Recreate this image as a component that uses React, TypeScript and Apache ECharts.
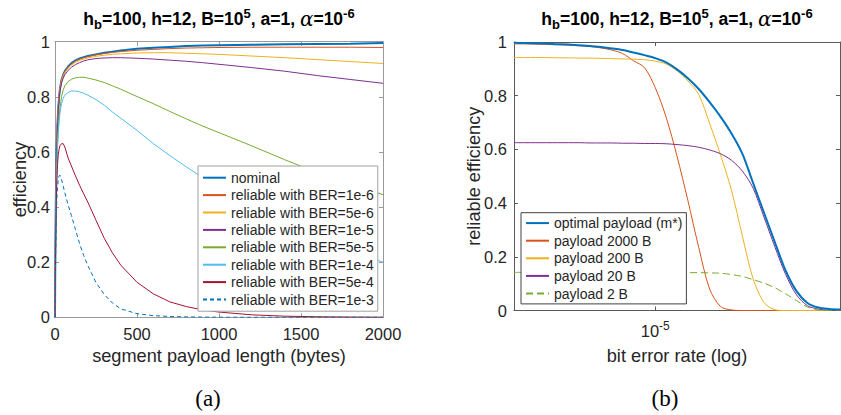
import React, { useEffect, useRef } from 'react';
import * as echarts from 'echarts';

// ---------- (a) efficiency vs segment payload length ----------
const payloadBytes = [0, 1, 2, 3, 5, 7, 10, 15, 20, 25, 30, 40, 50, 60, 80, 100, 125, 150, 175, 200, 250, 300, 350, 400, 500, 600, 700, 800, 900, 1000, 1200, 1400, 1600, 1800, 2000];
const nominal = [0, 0.12, 0.22, 0.3, 0.42, 0.52, 0.61, 0.7, 0.76, 0.8, 0.83, 0.862, 0.88, 0.893, 0.91, 0.922, 0.932, 0.939, 0.944, 0.948, 0.954, 0.96, 0.964, 0.968, 0.974, 0.978, 0.981, 0.984, 0.986, 0.987, 0.989, 0.991, 0.992, 0.993, 0.995];
const ber1e6 = [0, 0.12, 0.22, 0.3, 0.42, 0.52, 0.61, 0.7, 0.76, 0.8, 0.829, 0.861, 0.879, 0.892, 0.908, 0.92, 0.93, 0.937, 0.942, 0.946, 0.952, 0.957, 0.961, 0.964, 0.969, 0.972, 0.975, 0.977, 0.978, 0.979, 0.98, 0.98, 0.98, 0.98, 0.979];
const ber5e6 = [0, 0.12, 0.22, 0.3, 0.42, 0.52, 0.61, 0.7, 0.758, 0.798, 0.827, 0.858, 0.876, 0.888, 0.904, 0.915, 0.925, 0.932, 0.937, 0.941, 0.947, 0.951, 0.954, 0.956, 0.959, 0.96, 0.96, 0.958, 0.956, 0.954, 0.948, 0.942, 0.935, 0.928, 0.921];
const ber1e5 = [0, 0.12, 0.22, 0.3, 0.42, 0.52, 0.6, 0.69, 0.75, 0.79, 0.82, 0.85, 0.868, 0.88, 0.896, 0.907, 0.917, 0.924, 0.93, 0.934, 0.939, 0.941, 0.942, 0.942, 0.94, 0.937, 0.933, 0.929, 0.924, 0.918, 0.906, 0.893, 0.877, 0.863, 0.849];
const ber5e5 = [0, 0.1, 0.18, 0.25, 0.355, 0.44, 0.53, 0.62, 0.68, 0.725, 0.758, 0.8, 0.825, 0.84, 0.855, 0.864, 0.869, 0.871, 0.871, 0.868, 0.861, 0.852, 0.84, 0.828, 0.801, 0.775, 0.747, 0.72, 0.694, 0.67, 0.622, 0.572, 0.525, 0.484, 0.445];
const ber1e4 = [0, 0.1, 0.18, 0.25, 0.36, 0.44, 0.52, 0.61, 0.67, 0.71, 0.74, 0.775, 0.795, 0.806, 0.816, 0.821, 0.821, 0.818, 0.813, 0.806, 0.79, 0.77, 0.745, 0.723, 0.678, 0.63, 0.587, 0.546, 0.507, 0.47, 0.4, 0.338, 0.285, 0.24, 0.2];
const ber5e4 = [0, 0.08, 0.15, 0.21, 0.31, 0.39, 0.47, 0.55, 0.59, 0.61, 0.622, 0.63, 0.63, 0.618, 0.578, 0.549, 0.513, 0.479, 0.448, 0.418, 0.352, 0.287, 0.234, 0.19, 0.127, 0.085, 0.056, 0.039, 0.027, 0.019, 0.009, 0.004, 0.002, 0.001, 0.0005];
const ber1e3 = [0, 0.07, 0.13, 0.18, 0.27, 0.34, 0.41, 0.47, 0.5, 0.513, 0.516, 0.5, 0.476, 0.452, 0.408, 0.369, 0.318, 0.267, 0.224, 0.188, 0.126, 0.083, 0.052, 0.031, 0.013, 0.006, 0.003, 0.0015, 0.0008, 0.0004, 0.0001, 0, 0, 0, 0];

const leftNames = ['nominal', 'reliable with BER=1e-6', 'reliable with BER=5e-6', 'reliable with BER=1e-5', 'reliable with BER=5e-5', 'reliable with BER=1e-4', 'reliable with BER=5e-4', 'reliable with BER=1e-3'];
const leftTicksX = [0, 2000, 500];

// ---------- (b) reliable efficiency vs bit error rate (log10) ----------
const berLog10 = [-5.52, -5.48, -5.44, -5.4, -5.36, -5.32, -5.28, -5.24, -5.2, -5.16, -5.12, -5.08, -5.04, -5.0, -4.96, -4.92, -4.88, -4.84, -4.8, -4.76, -4.72, -4.68, -4.64, -4.6, -4.56, -4.52, -4.48, -4.44, -4.4, -4.36, -4.32];
const optimalPayload = [0.997, 0.996, 0.995, 0.994, 0.992, 0.991, 0.988, 0.985, 0.981, 0.976, 0.97, 0.961, 0.951, 0.94, 0.924, 0.898, 0.865, 0.825, 0.776, 0.722, 0.66, 0.585, 0.475, 0.365, 0.255, 0.148, 0.072, 0.028, 0.011, 0.006, 0.004];
const payload2000 = [0.993, 0.993, 0.992, 0.991, 0.99, 0.988, 0.986, 0.983, 0.978, 0.97, 0.957, 0.93, 0.905, 0.83, 0.72, 0.575, 0.41, 0.235, 0.08, 0.015, 0.002, 0, 0, 0, 0, 0, 0, 0, 0, 0, 0];
const payload200 = [0.942, 0.942, 0.942, 0.942, 0.941, 0.941, 0.94, 0.94, 0.939, 0.938, 0.937, 0.936, 0.934, 0.929, 0.918, 0.893, 0.855, 0.805, 0.697, 0.58, 0.45, 0.28, 0.118, 0.03, 0.003, 0, 0, 0, 0, 0, 0];
const payload20 = [0.625, 0.625, 0.625, 0.625, 0.625, 0.625, 0.625, 0.624, 0.624, 0.624, 0.623, 0.623, 0.622, 0.622, 0.621, 0.618, 0.614, 0.608, 0.598, 0.584, 0.56, 0.52, 0.456, 0.348, 0.238, 0.134, 0.058, 0.018, 0.005, 0.001, 0];
const payload2 = [0.142, 0.142, 0.142, 0.142, 0.142, 0.142, 0.142, 0.142, 0.142, 0.142, 0.142, 0.142, 0.142, 0.142, 0.142, 0.142, 0.141, 0.141, 0.14, 0.139, 0.134, 0.127, 0.115, 0.102, 0.085, 0.062, 0.037, 0.013, 0.002, 0, 0];

const rightNames = ['optimal payload (m*)', 'payload 2000 B', 'payload 200 B', 'payload 20 B', 'payload 2 B'];
const rightTickExp = [-5];
const rightRange = [-5.52, -4.32];

const yTicks = [0, 1, 0.2];

const FONT = '"Liberation Sans", Arial, Helvetica, sans-serif';
const TXT = '#262626';
const C = ['#0072BD', '#D95319', '#EDB120', '#7E2F8E', '#77AC30', '#4DBEEE', '#A2142F'];

function pairs(xs: number[], ys: number[]) {
  return xs.map((x, i) => [x, ys[i]]);
}

const titleText = '{t|h}{sub|b}{t|=100, h=12, B=10}{sup|5}{t|, a=1, }{al|α}{t|=10}{sup|-6}';
const titleRich = {
  t: { fontSize: 17.5, fontWeight: 'bold', fontFamily: FONT, fill: '#000', lineHeight: 24, verticalAlign: 'middle' },
  sub: { fontSize: 13, fontWeight: 'bold', fontFamily: FONT, fill: '#000', lineHeight: 12, verticalAlign: 'bottom' },
  sup: { fontSize: 13, fontWeight: 'bold', fontFamily: FONT, fill: '#000', lineHeight: 10, verticalAlign: 'top' },
  al: { fontSize: 20, fontStyle: 'italic', fontFamily: '"DejaVu Serif", serif', fill: '#000', lineHeight: 24, verticalAlign: 'middle' },
};

function frameAxis(extra: any, color: string) {
  return Object.assign(
    {
      type: 'value',
      axisLine: { show: true, onZero: false, lineStyle: { color, width: 1 } },
      axisTick: { show: true, inside: true, length: 4, lineStyle: { color, width: 1 } },
      splitLine: { show: false },
      nameMoveOverlap: false,
    },
    extra
  );
}

const labelStyle = { fontSize: 16.5, color: TXT, fontFamily: FONT };
const nameStyle = { fontSize: 18.2, color: TXT, fontFamily: FONT };
const plainNum = (v: number) => String(v);

function buildOption() {
  const leftColor = '#9a9a9a';
  const rightColor = '#5a5a5a';
  const xLeft = { min: leftTicksX[0], max: leftTicksX[1], interval: leftTicksX[2] };
  const yCommon = { min: yTicks[0], max: yTicks[1], interval: yTicks[2] };
  const xRight = { min: rightRange[0], max: rightRange[1] };

  const leftData = [nominal, ber1e6, ber5e6, ber1e5, ber5e5, ber1e4, ber5e4, ber1e3];
  const leftColors = [C[0], C[1], C[2], C[3], C[4], C[5], C[6], C[0]];
  const leftSeries = leftData.map((d, i) => ({
    type: 'line',
    name: leftNames[i],
    xAxisIndex: 0,
    yAxisIndex: 0,
    data: pairs(payloadBytes, d),
    symbol: 'none',
    showSymbol: false,
    color: leftColors[i],
    lineStyle: { color: leftColors[i], width: i === 0 ? 2 : 1, type: i === 7 ? [4, 3] : 'solid' },
    itemStyle: { color: leftColors[i] },
    emphasis: { disabled: true },
  }));

  const rightData = [optimalPayload, payload2000, payload200, payload20, payload2];
  const rightColors = [C[0], C[1], C[2], C[3], C[4]];
  const rightSeries = rightData.map((d, i) => ({
    type: 'line',
    name: rightNames[i],
    xAxisIndex: 2,
    yAxisIndex: 2,
    data: pairs(berLog10, d),
    symbol: 'none',
    showSymbol: false,
    smooth: 0.3,
    color: rightColors[i],
    lineStyle: { color: rightColors[i], width: i === 0 ? 2 : 1, type: i === 4 ? [7, 4] : 'solid' },
    itemStyle: { color: rightColors[i] },
    emphasis: { disabled: true },
    z: i === 0 ? 3 : 2,
  }));

  const legendBase = {
    orient: 'vertical',
    itemWidth: 23,
    itemHeight: 12,
    itemGap: 0,
    backgroundColor: '#fff',
    borderWidth: 1,
    borderRadius: 0,
    selectedMode: false,
    itemStyle: { opacity: 0 },
  };

  return {
    animation: false,
    backgroundColor: '#fff',
    grid: [
      { left: 55, top: 41.7, width: 328, height: 275.6, containLabel: false, outerBoundsMode: 'none' },
      { left: 514, top: 42, width: 326, height: 268.5, containLabel: false, outerBoundsMode: 'none' },
    ],
    xAxis: [
      frameAxis(
        {
          gridIndex: 0,
          position: 'bottom',
          ...xLeft,
          name: 'segment payload length (bytes)',
          nameLocation: 'middle',
          nameGap: 30,
          nameTextStyle: nameStyle,
          axisLabel: { show: true, margin: 8, formatter: plainNum, ...labelStyle },
        },
        leftColor
      ),
      frameAxis({ gridIndex: 0, position: 'top', ...xLeft, axisLabel: { show: false } }, leftColor),
      frameAxis(
        {
          gridIndex: 1,
          position: 'bottom',
          ...xRight,
          name: 'bit error rate (log)',
          nameLocation: 'middle',
          nameGap: 36,
          nameTextStyle: nameStyle,
          axisTick: { show: true, inside: true, length: 4, customValues: rightTickExp, lineStyle: { color: rightColor, width: 1 } },
          axisLabel: {
            show: true,
            margin: 9,
            customValues: rightTickExp,
            formatter: (v: number) => '{b|10}{s|' + Math.round(v) + '}',
            rich: {
              b: { fontSize: 16.5, color: TXT, fontFamily: FONT, lineHeight: 22, verticalAlign: 'middle' },
              s: { fontSize: 12, color: TXT, fontFamily: FONT, lineHeight: 12, verticalAlign: 'top' },
            },
          },
        },
        rightColor
      ),
      frameAxis(
        {
          gridIndex: 1,
          position: 'top',
          ...xRight,
          axisTick: { show: true, inside: true, length: 4, customValues: rightTickExp, lineStyle: { color: rightColor, width: 1 } },
          axisLabel: { show: false },
        },
        rightColor
      ),
    ],
    yAxis: [
      frameAxis(
        {
          gridIndex: 0,
          position: 'left',
          ...yCommon,
          name: 'efficiency',
          nameLocation: 'middle',
          nameGap: 26,
          nameTextStyle: nameStyle,
          axisLabel: { show: true, margin: 5, formatter: plainNum, ...labelStyle },
        },
        leftColor
      ),
      frameAxis({ gridIndex: 0, position: 'right', ...yCommon, axisLabel: { show: false } }, leftColor),
      frameAxis(
        {
          gridIndex: 1,
          position: 'left',
          ...yCommon,
          name: 'reliable efficiency',
          nameLocation: 'middle',
          nameGap: 31,
          nameTextStyle: nameStyle,
          axisLabel: { show: true, margin: 7, formatter: plainNum, ...labelStyle },
        },
        rightColor
      ),
      frameAxis({ gridIndex: 1, position: 'right', ...yCommon, axisLabel: { show: false } }, rightColor),
    ],
    legend: [
      {
        ...legendBase,
        data: leftNames,
        left: 198,
        top: 166,
        padding: [3, 4, 3, 4],
        borderColor: '#a0a0a0',
        textStyle: { fontSize: 14, lineHeight: 17.4, color: TXT, fontFamily: FONT },
      },
      {
        ...legendBase,
        data: rightNames,
        left: 521,
        top: 212.7,
        padding: [1.6, 4, 1.6, 4],
        borderColor: '#404040',
        textStyle: { fontSize: 14, lineHeight: 17.6, color: TXT, fontFamily: FONT },
      },
    ],
    graphic: [
      { type: 'text', x: 219, y: 7, silent: true, style: { text: titleText, rich: titleRich, align: 'center', verticalAlign: 'top' } },
      { type: 'text', x: 677, y: 7, silent: true, style: { text: titleText, rich: titleRich, align: 'center', verticalAlign: 'top' } },
      { type: 'text', x: 208, y: 398, silent: true, style: { text: '(a)', font: '23px "Liberation Serif", serif', fill: '#000', align: 'center', verticalAlign: 'middle' } },
      { type: 'text', x: 665, y: 398, silent: true, style: { text: '(b)', font: '23px "Liberation Serif", serif', fill: '#000', align: 'center', verticalAlign: 'middle' } },
    ],
    series: [...leftSeries, ...rightSeries],
  };
}

export default function App() {
  const ref = useRef<HTMLDivElement>(null);
  useEffect(() => {
    document.body.style.margin = '0';
    const chart = echarts.init(ref.current as HTMLDivElement, null, { renderer: 'svg' });
    chart.setOption(buildOption() as any);
    return () => {
      chart.dispose();
    };
  }, []);
  return <div ref={ref} style={{ width: 841, height: 415, background: '#fff' }} />;
}
